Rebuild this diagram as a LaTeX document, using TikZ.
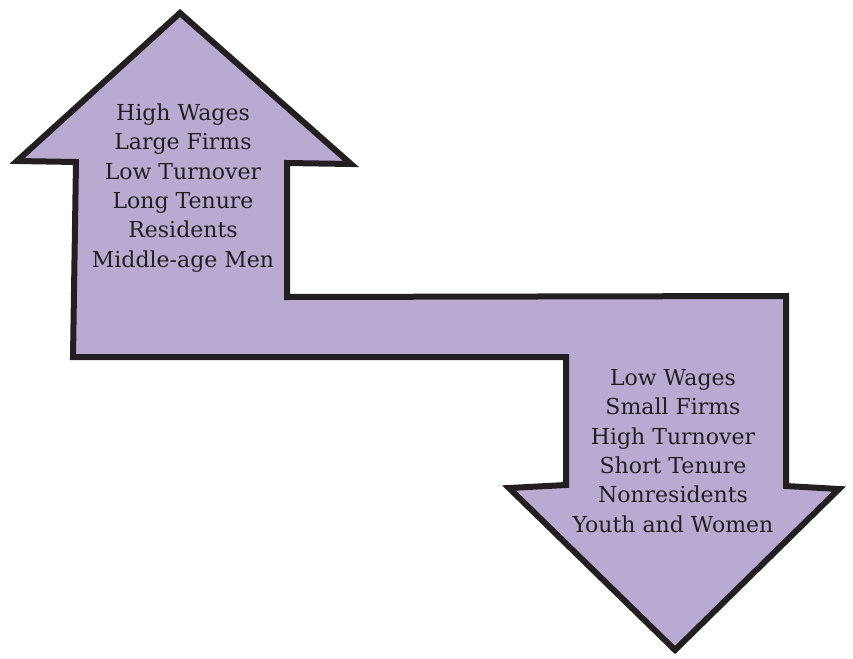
\documentclass[tikz,border=0pt]{standalone}
\usepackage{fontspec}
\setmainfont{DejaVu Serif}
\definecolor{arrowfill}{RGB}{185,170,209}
\definecolor{arrowline}{RGB}{35,31,32}
\definecolor{textcol}{RGB}{35,31,32}
\begin{document}
\begin{tikzpicture}[x=1pt,y=-1pt,
  labeltext/.style={align=center,text=textcol,inner sep=0pt,font=\fontsize{22}{29.3}\selectfont}]
\useasboundingbox (0,0) rectangle (853,658);
\draw[fill=arrowfill,draw=arrowline,line width=6pt,line join=miter,miter limit=10]
  (180,13) -- (351,164) -- (287,163) -- (287,297) -- (786,296) -- (786,486)
  -- (839,489) -- (675,650) -- (509,488) -- (566,485) -- (566,357)
  -- (73,357) -- (76,162) -- (17,161) -- cycle;
\node[labeltext,anchor=base] (up) at (183,267) {High Wages\\Large Firms\\Low Turnover\\Long Tenure\\Residents\\Middle-age Men};
\node[labeltext,anchor=base] (down) at (673,532) {Low Wages\\Small Firms\\High Turnover\\Short Tenure\\Nonresidents\\Youth and Women};
\end{tikzpicture}
\end{document}
